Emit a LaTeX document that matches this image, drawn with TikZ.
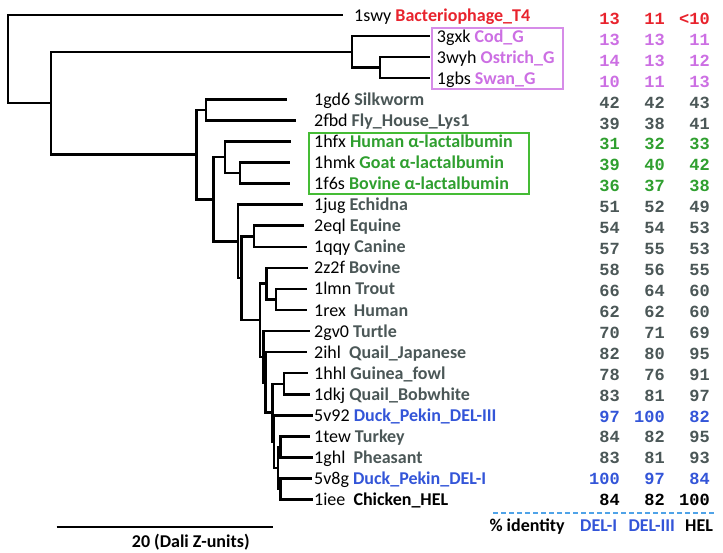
\documentclass[tikz,border=0pt]{standalone}
\usepackage{fontspec}
\setmainfont{Carlito}
\newfontfamily\numfont{Liberation Mono}
\usetikzlibrary{positioning}
\definecolor{phred}{HTML}{E8232D}
\definecolor{glys}{HTML}{CC6FE3}
\definecolor{glysbox}{HTML}{D68CE8}
\definecolor{slate}{HTML}{4B5757}
\definecolor{lacgreen}{HTML}{2F9F2F}
\definecolor{lacbox}{HTML}{45BC35}
\definecolor{duck}{HTML}{3355D8}
\definecolor{dashblue}{HTML}{4FA3E8}
\begin{document}
\begin{tikzpicture}[x=1pt,y=-1pt,
  tree/.style={line width=2.5pt},
  lab/.style={anchor=base west,inner sep=0pt,font=\fontsize{18}{20}\selectfont},
  num/.style={anchor=base east,inner sep=0pt,font=\numfont\bfseries\fontsize{17}{20}\selectfont}]
\useasboundingbox (0,0) rectangle (723,552);

\coordinate (root) at (8,59.1);
\coordinate (n1) at (51,103.2);
\coordinate (gc) at (352,51.9);
\coordinate (g2) at (380,67.65);
\coordinate (n2) at (196.7,154.55);
\coordinate (n3) at (206,109.85);
\coordinate (n4) at (213.3,199.25);
\coordinate (alac) at (225,157.2);
\coordinate (alac2) at (240,173.05);
\coordinate (n5) at (238,241.3);
\coordinate (n6) at (241.7,278.0);
\coordinate (mam) at (254,236.25);
\coordinate (n7) at (260,320.2);
\coordinate (bov) at (266.7,283.6);
\coordinate (bov2) at (276,299.45);
\coordinate (n8) at (263.3,356.75);
\coordinate (n9) at (265.5,382.4);
\coordinate (n10) at (272.7,412.7);
\coordinate (qua) at (284,383.75);
\coordinate (n11) at (274,441.65);
\coordinate (n12) at (278,468);
\coordinate (gal) at (280.7,446.95);
\coordinate (hel) at (280.7,489.05);

\coordinate (t1swy) at (343,15.0);
\coordinate (t3gxk) at (430,36.1);
\coordinate (t3wyh) at (430,57.1);
\coordinate (t1gbs) at (430,78.2);
\coordinate (t1gd6) at (287,99.3);
\coordinate (t2fbd) at (295.5,120.4);
\coordinate (t1hfx) at (291,141.4);
\coordinate (t1hmk) at (290,162.5);
\coordinate (t1f6s) at (290,183.6);
\coordinate (t1jug) at (303,204.6);
\coordinate (t2eql) at (304,225.7);
\coordinate (t1qqy) at (306.7,246.8);
\coordinate (t2z2f) at (308,267.8);
\coordinate (t1lmn) at (307,288.9);
\coordinate (t1rex) at (307,310.0);
\coordinate (t2gv0) at (310,331.1);
\coordinate (t2ihl) at (307,352.1);
\coordinate (t1hhl) at (308,373.2);
\coordinate (t1dkj) at (310,394.3);
\coordinate (t5v92) at (313,415.3);
\coordinate (t1tew) at (310,436.4);
\coordinate (t1ghl) at (313,457.5);
\coordinate (t5v8g) at (311.7,478.5);
\coordinate (t1iee) at (313,499.6);

\draw[tree] (root) |- (t1swy) (root) |- (n1);
\draw[tree] (n1) |- (gc) (n1) |- (n2);
\draw[tree] (gc) |- (t3gxk) (gc) |- (g2);
\draw[tree] (g2) |- (t3wyh) (g2) |- (t1gbs);
\draw[tree] (n2) |- (n3) (n2) |- (n4);
\draw[tree] (n3) |- (t1gd6) (n3) |- (t2fbd);
\draw[tree] (n4) |- (alac) (n4) |- (n5);
\draw[tree] (alac) |- (t1hfx) (alac) |- (alac2);
\draw[tree] (alac2) |- (t1hmk) (alac2) |- (t1f6s);
\draw[tree] (n5) |- (t1jug) (n5) |- (n6);
\draw[tree] (n6) |- (mam) (n6) |- (n7);
\draw[tree] (mam) |- (t2eql) (mam) |- (t1qqy);
\draw[tree] (n7) |- (bov) (n7) |- (n8);
\draw[tree] (bov) |- (t2z2f) (bov) |- (bov2);
\draw[tree] (bov2) |- (t1lmn) (bov2) |- (t1rex);
\draw[tree] (n8) |- (t2gv0) (n8) |- (n9);
\draw[tree] (n9) |- (t2ihl) (n9) |- (n10);
\draw[tree] (n10) |- (qua) (n10) |- (n11);
\draw[tree] (qua) |- (t1hhl) (qua) |- (t1dkj);
\draw[tree] (n11) |- (t5v92) (n11) |- (n12);
\draw[tree] (n12) |- (gal) (n12) |- (hel);
\draw[tree] (gal) |- (t1tew) (gal) |- (t1ghl);
\draw[tree] (hel) |- (t5v8g) (hel) |- (t1iee);

\node[lab] (l1swy) at (354,21.0) {1swy \textcolor{phred}{\bfseries Bacteriophage\_T4}};
\node[lab] (l3gxk) at (436.7,42.1) {3gxk \textcolor{glys}{\bfseries Cod\_G}};
\node[lab] (l3wyh) at (436.7,63.1) {3wyh \textcolor{glys}{\bfseries Ostrich\_G}};
\node[lab] (l1gbs) at (436.7,84.2) {1gbs \textcolor{glys}{\bfseries Swan\_G}};
\node[lab] (l1gd6) at (314,105.3) {1gd6 \textcolor{slate}{\bfseries Silkworm}};
\node[lab] (l2fbd) at (314,126.4) {2fbd \textcolor{slate}{\bfseries Fly\_House\_Lys1}};
\node[lab] (l1hfx) at (314,147.4) {1hfx \textcolor{lacgreen}{\bfseries Human α-lactalbumin}};
\node[lab] (l1hmk) at (314,168.5) {1hmk \textcolor{lacgreen}{\bfseries Goat α-lactalbumin}};
\node[lab] (l1f6s) at (314,189.6) {1f6s \textcolor{lacgreen}{\bfseries Bovine α-lactalbumin}};
\node[lab] (l1jug) at (314,210.6) {1jug \textcolor{slate}{\bfseries Echidna}};
\node[lab] (l2eql) at (314,231.7) {2eql \textcolor{slate}{\bfseries Equine}};
\node[lab] (l1qqy) at (314,252.8) {1qqy \textcolor{slate}{\bfseries Canine}};
\node[lab] (l2z2f) at (314,273.8) {2z2f \textcolor{slate}{\bfseries Bovine}};
\node[lab] (l1lmn) at (314,294.9) {1lmn \textcolor{slate}{\bfseries Trout}};
\node[lab] (l1rex) at (314,316.0) {1rex\ \ \textcolor{slate}{\bfseries Human}};
\node[lab] (l2gv0) at (314,337.1) {2gv0 \textcolor{slate}{\bfseries Turtle}};
\node[lab] (l2ihl) at (314,358.1) {2ihl\ \ \textcolor{slate}{\bfseries Quail\_Japanese}};
\node[lab] (l1hhl) at (314,379.2) {1hhl \textcolor{slate}{\bfseries Guinea\_fowl}};
\node[lab] (l1dkj) at (314,400.3) {1dkj \textcolor{slate}{\bfseries Quail\_Bobwhite}};
\node[lab] (l5v92) at (314,421.3) {5v92 \textcolor{duck}{\bfseries Duck\_Pekin\_DEL-III}};
\node[lab] (l1tew) at (314,442.4) {1tew \textcolor{slate}{\bfseries Turkey}};
\node[lab] (l1ghl) at (314,463.5) {1ghl\ \ \textcolor{slate}{\bfseries Pheasant}};
\node[lab] (l5v8g) at (314,484.5) {5v8g \textcolor{duck}{\bfseries Duck\_Pekin\_DEL-I}};
\node[lab] (l1iee) at (314,505.6) {1iee\ \ {\bfseries Chicken\_HEL}};

\draw[glysbox,line width=2pt] (432.3,28.3) rectangle (563.3,89.3);
\draw[lacbox,line width=2pt] (309.3,132.7) rectangle (529,194);

\node[num,text=phred] (a1swy) at (620,24.3) {13}; \node[num,text=phred] (b1swy) at (665,24.3) {11}; \node[num,text=phred] (c1swy) at (710,24.3) {<10};
\node[num,text=glys] (a3gxk) at (620,45.2) {13}; \node[num,text=glys] (b3gxk) at (665,45.2) {13}; \node[num,text=glys] (c3gxk) at (710,45.2) {11};
\node[num,text=glys] (a3wyh) at (620,66.2) {14}; \node[num,text=glys] (b3wyh) at (665,66.2) {13}; \node[num,text=glys] (c3wyh) at (710,66.2) {12};
\node[num,text=glys] (a1gbs) at (620,87.1) {10}; \node[num,text=glys] (b1gbs) at (665,87.1) {11}; \node[num,text=glys] (c1gbs) at (710,87.1) {13};
\node[num,text=slate] (a1gd6) at (620,108.0) {42}; \node[num,text=slate] (b1gd6) at (665,108.0) {42}; \node[num,text=slate] (c1gd6) at (710,108.0) {43};
\node[num,text=slate] (a2fbd) at (620,129.0) {39}; \node[num,text=slate] (b2fbd) at (665,129.0) {38}; \node[num,text=slate] (c2fbd) at (710,129.0) {41};
\node[num,text=lacgreen] (a1hfx) at (620,149.9) {31}; \node[num,text=lacgreen] (b1hfx) at (665,149.9) {32}; \node[num,text=lacgreen] (c1hfx) at (710,149.9) {33};
\node[num,text=lacgreen] (a1hmk) at (620,170.8) {39}; \node[num,text=lacgreen] (b1hmk) at (665,170.8) {40}; \node[num,text=lacgreen] (c1hmk) at (710,170.8) {42};
\node[num,text=lacgreen] (a1f6s) at (620,191.7) {36}; \node[num,text=lacgreen] (b1f6s) at (665,191.7) {37}; \node[num,text=lacgreen] (c1f6s) at (710,191.7) {38};
\node[num,text=slate] (a1jug) at (620,212.7) {51}; \node[num,text=slate] (b1jug) at (665,212.7) {52}; \node[num,text=slate] (c1jug) at (710,212.7) {49};
\node[num,text=slate] (a2eql) at (620,233.6) {54}; \node[num,text=slate] (b2eql) at (665,233.6) {54}; \node[num,text=slate] (c2eql) at (710,233.6) {53};
\node[num,text=slate] (a1qqy) at (620,254.5) {57}; \node[num,text=slate] (b1qqy) at (665,254.5) {55}; \node[num,text=slate] (c1qqy) at (710,254.5) {53};
\node[num,text=slate] (a2z2f) at (620,275.5) {58}; \node[num,text=slate] (b2z2f) at (665,275.5) {56}; \node[num,text=slate] (c2z2f) at (710,275.5) {55};
\node[num,text=slate] (a1lmn) at (620,296.4) {66}; \node[num,text=slate] (b1lmn) at (665,296.4) {64}; \node[num,text=slate] (c1lmn) at (710,296.4) {60};
\node[num,text=slate] (a1rex) at (620,317.3) {62}; \node[num,text=slate] (b1rex) at (665,317.3) {62}; \node[num,text=slate] (c1rex) at (710,317.3) {60};
\node[num,text=slate] (a2gv0) at (620,338.3) {70}; \node[num,text=slate] (b2gv0) at (665,338.3) {71}; \node[num,text=slate] (c2gv0) at (710,338.3) {69};
\node[num,text=slate] (a2ihl) at (620,359.2) {82}; \node[num,text=slate] (b2ihl) at (665,359.2) {80}; \node[num,text=slate] (c2ihl) at (710,359.2) {95};
\node[num,text=slate] (a1hhl) at (620,380.1) {78}; \node[num,text=slate] (b1hhl) at (665,380.1) {76}; \node[num,text=slate] (c1hhl) at (710,380.1) {91};
\node[num,text=slate] (a1dkj) at (620,401.0) {83}; \node[num,text=slate] (b1dkj) at (665,401.0) {81}; \node[num,text=slate] (c1dkj) at (710,401.0) {97};
\node[num,text=duck] (a5v92) at (620,422.0) {97}; \node[num,text=duck] (b5v92) at (665,422.0) {100}; \node[num,text=duck] (c5v92) at (710,422.0) {82};
\node[num,text=slate] (a1tew) at (620,442.9) {84}; \node[num,text=slate] (b1tew) at (665,442.9) {82}; \node[num,text=slate] (c1tew) at (710,442.9) {95};
\node[num,text=slate] (a1ghl) at (620,463.8) {83}; \node[num,text=slate] (b1ghl) at (665,463.8) {81}; \node[num,text=slate] (c1ghl) at (710,463.8) {93};
\node[num,text=duck] (a5v8g) at (620,484.8) {100}; \node[num,text=duck] (b5v8g) at (665,484.8) {97}; \node[num,text=duck] (c5v8g) at (710,484.8) {84};
\node[num] (a1iee) at (620,505.7) {84}; \node[num] (b1iee) at (665,505.7) {82}; \node[num] (c1iee) at (710,505.7) {100};

\coordinate (dashl) at (493.3,513.3);
\coordinate (dashr) at (715,513.3);
\draw[dashblue,line width=2pt,dash pattern=on 5pt off 3pt] (dashl) -- (dashr);
\node[lab] (ident) at (489.3,531.5) {\bfseries \% identity};
\node[lab,text=duck] (hdel1) at (580,531.5) {\bfseries DEL-I};
\node[lab,text=duck] (hdel3) at (628.3,531.5) {\bfseries DEL-III};
\node[lab] (hhel) at (685,531.5) {\bfseries HEL};

\coordinate (barl) at (56.7,526.7);
\coordinate (barr) at (273.3,526.7);
\draw[line width=2pt] (barl) -- (barr);
\node[lab] (barlab) at (131.7,547) {\bfseries 20 (Dali Z-units)};
\end{tikzpicture}
\end{document}
